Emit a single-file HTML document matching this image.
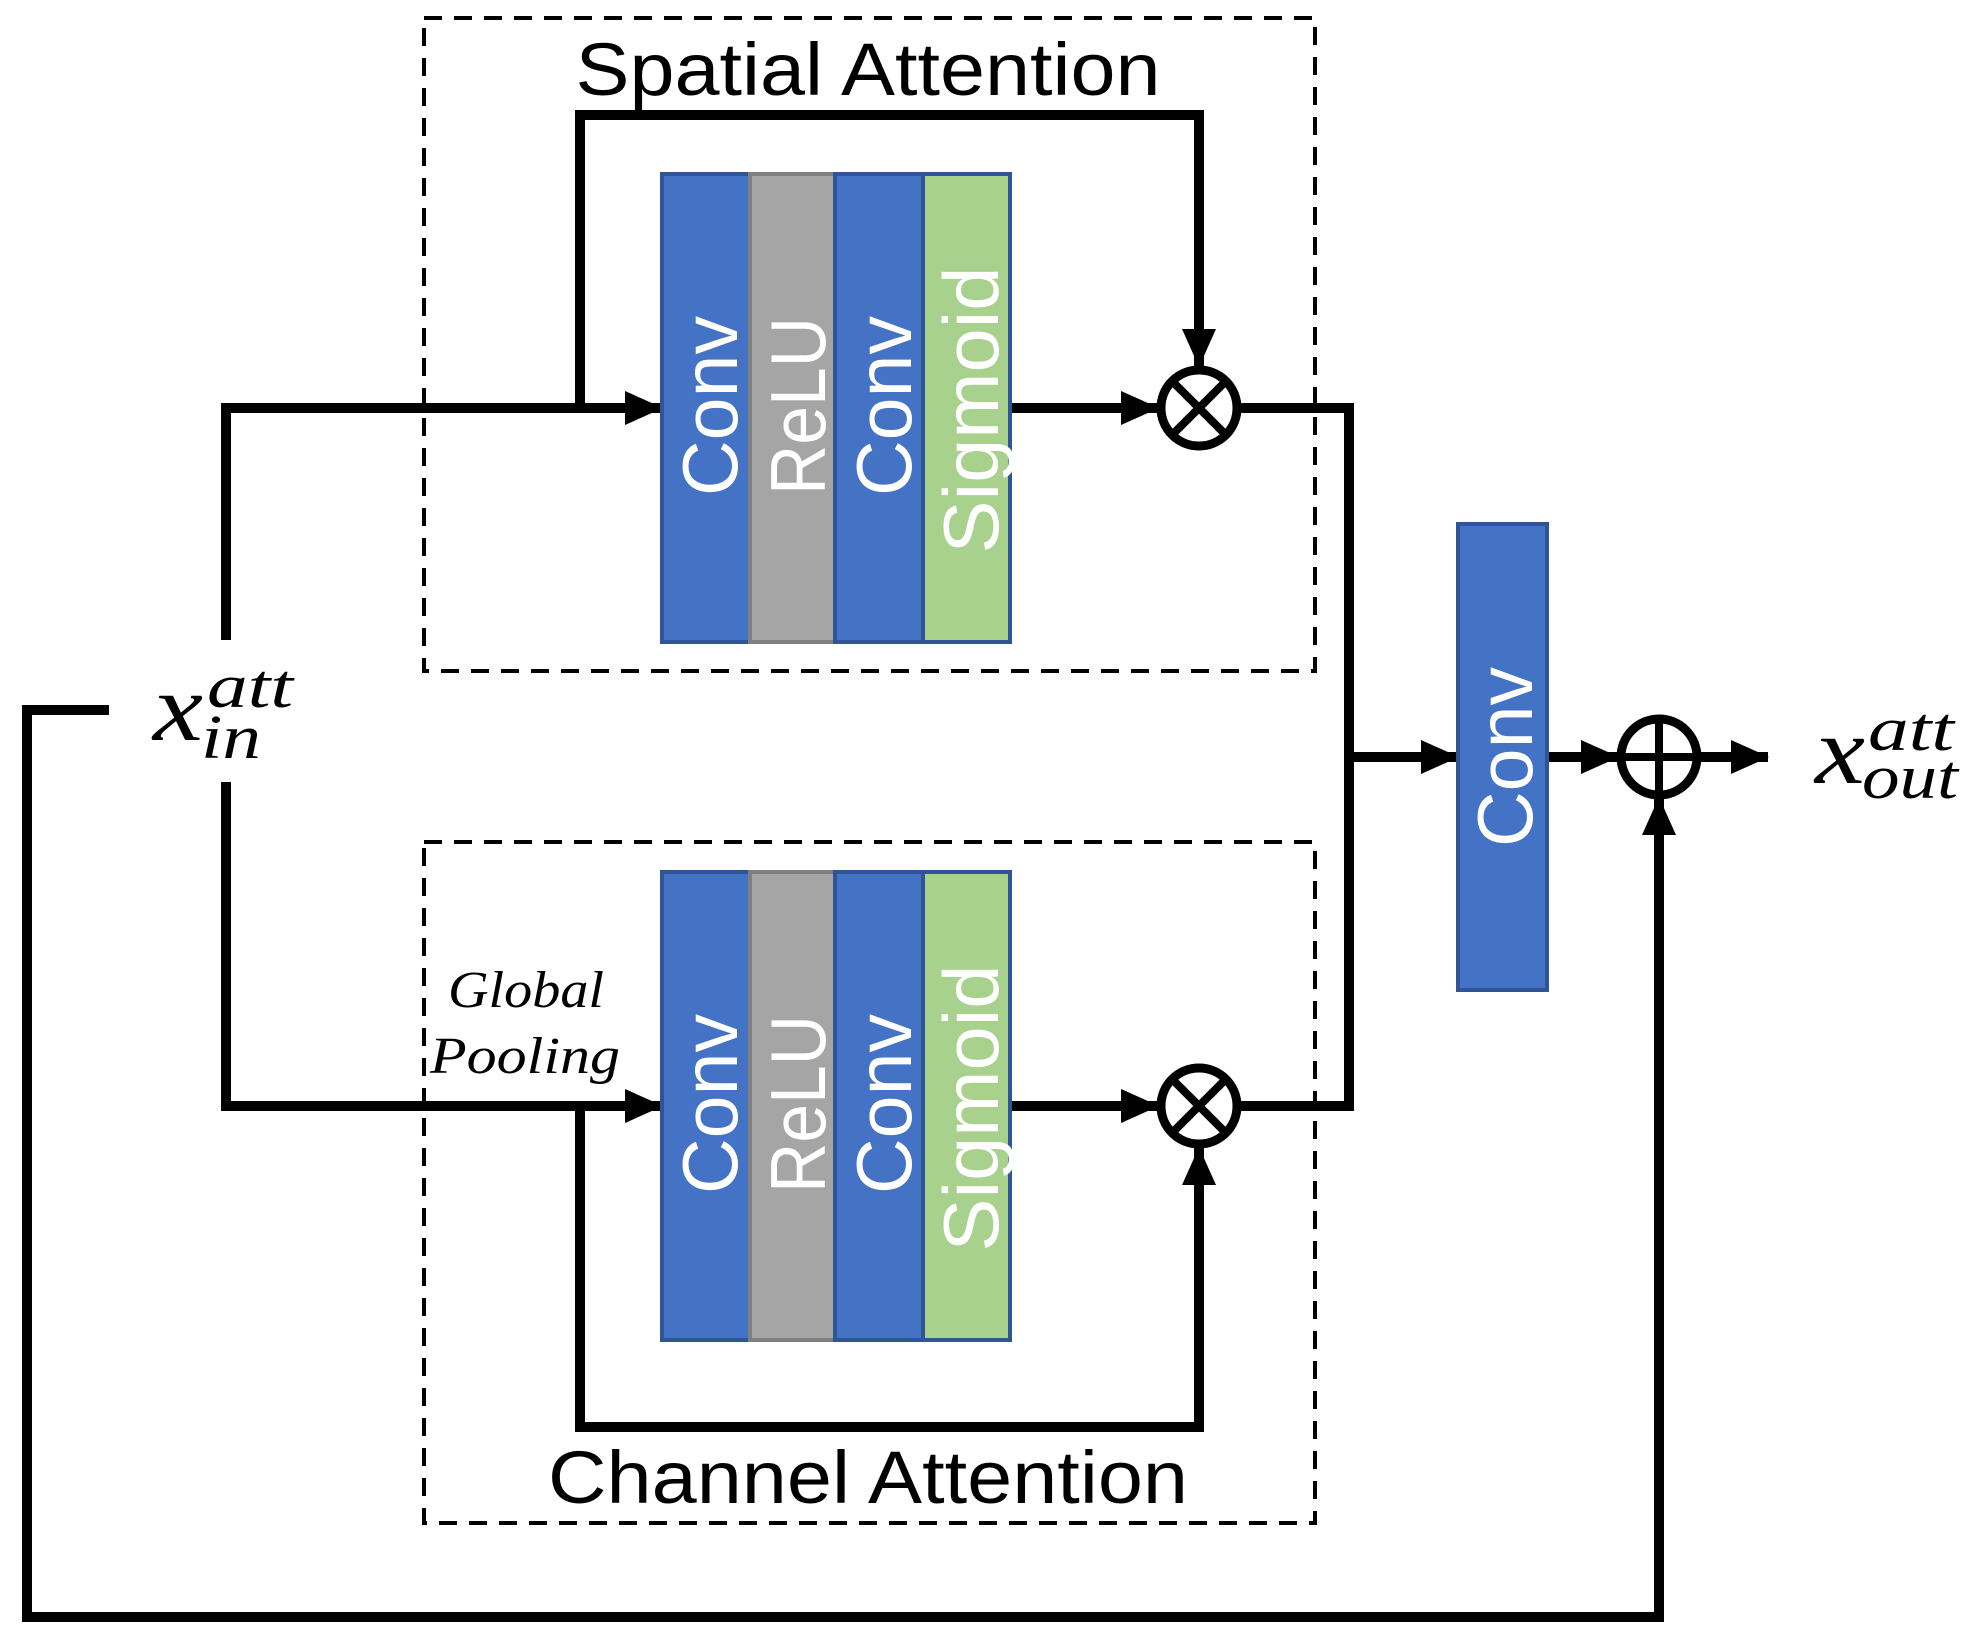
<!DOCTYPE html>
<html><head><meta charset="utf-8"><style>
html,body{margin:0;padding:0;background:#fff;}
svg{display:block;}
</style></head><body>
<svg width="1968" height="1637" viewBox="0 0 1968 1637" xmlns="http://www.w3.org/2000/svg">
<rect width="1968" height="1637" fill="#fff"/>
<defs>
<marker id="ah" markerWidth="38" markerHeight="34" refX="37" refY="17" orient="auto" markerUnits="userSpaceOnUse">
<path d="M0,0 L38,17 L0,34 z" fill="#000"/>
</marker>
</defs>
<rect x="424" y="18" width="891" height="653" fill="none" stroke="#000" stroke-width="4" stroke-dasharray="18,12"/>
<rect x="424" y="842" width="891" height="681" fill="none" stroke="#000" stroke-width="4" stroke-dasharray="18,12"/>
<text x="868" y="95" font-family="Liberation Sans, sans-serif" font-size="74" text-anchor="middle" textLength="585" lengthAdjust="spacingAndGlyphs">Spatial Attention</text>
<text x="868" y="1503" font-family="Liberation Sans, sans-serif" font-size="74" text-anchor="middle" textLength="640" lengthAdjust="spacingAndGlyphs">Channel Attention</text>

<g stroke="#000" stroke-width="10" fill="none" stroke-linejoin="miter">
<polyline points="226,640 226,408 662,408" marker-end="url(#ah)"/>
<polyline points="226,782 226,1106 662,1106" marker-end="url(#ah)"/>
<polyline points="580,408 580,115 1199,115 1199,366" marker-end="url(#ah)"/>
<polyline points="580,1106 580,1427 1199,1427 1199,1148" marker-end="url(#ah)"/>
<line x1="1010" y1="408" x2="1158" y2="408" marker-end="url(#ah)"/>
<line x1="1010" y1="1106" x2="1158" y2="1106" marker-end="url(#ah)"/>
<polyline points="1239,408 1349,408 1349,1106 1239,1106"/>
<line x1="1349" y1="757" x2="1458" y2="757" marker-end="url(#ah)"/>
<line x1="1548" y1="757" x2="1618" y2="757" marker-end="url(#ah)"/>
<line x1="1701" y1="757" x2="1768" y2="757" marker-end="url(#ah)"/>
<polyline points="109,710 27,710 27,1617 1659,1617 1659,798" marker-end="url(#ah)"/>
</g>

<g stroke="#2f5597" stroke-width="4">
<rect x="662" y="174" width="88" height="468" fill="#4472c4"/>
<rect x="750" y="174" width="85" height="468" fill="#a5a5a5" stroke="#7f7f7f"/>
<rect x="835" y="174" width="88" height="468" fill="#4472c4"/>
<rect x="923" y="174" width="87" height="468" fill="#a9d18e"/>
<rect x="662" y="872" width="88" height="468" fill="#4472c4"/>
<rect x="750" y="872" width="85" height="468" fill="#a5a5a5" stroke="#7f7f7f"/>
<rect x="835" y="872" width="88" height="468" fill="#4472c4"/>
<rect x="923" y="872" width="87" height="468" fill="#a9d18e"/>
<rect x="1458" y="524" width="89" height="466" fill="#4472c4"/>
</g>
<g font-family="Liberation Sans, sans-serif" font-size="78" fill="#fff" text-anchor="middle">
<text x="737" y="406" transform="rotate(-90 737 406)" textLength="180" lengthAdjust="spacingAndGlyphs">Conv</text>
<text x="825" y="406" transform="rotate(-90 825 406)" textLength="178" lengthAdjust="spacingAndGlyphs">ReLU</text>
<text x="911" y="406" transform="rotate(-90 911 406)" textLength="180" lengthAdjust="spacingAndGlyphs">Conv</text>
<text x="998" y="410" transform="rotate(-90 998 410)" textLength="287" lengthAdjust="spacingAndGlyphs">Sigmoid</text>
<text x="737" y="1104" transform="rotate(-90 737 1104)" textLength="180" lengthAdjust="spacingAndGlyphs">Conv</text>
<text x="825" y="1104" transform="rotate(-90 825 1104)" textLength="178" lengthAdjust="spacingAndGlyphs">ReLU</text>
<text x="911" y="1104" transform="rotate(-90 911 1104)" textLength="180" lengthAdjust="spacingAndGlyphs">Conv</text>
<text x="998" y="1108" transform="rotate(-90 998 1108)" textLength="287" lengthAdjust="spacingAndGlyphs">Sigmoid</text>
<text x="1532" y="757" transform="rotate(-90 1532 757)" textLength="180" lengthAdjust="spacingAndGlyphs">Conv</text>
</g>

<g stroke="#000" stroke-width="9" fill="#fff">
<circle cx="1199" cy="408" r="38"/>
<circle cx="1199" cy="1106" r="38"/>
<circle cx="1659" cy="757" r="38"/>
</g>
<g stroke="#000" stroke-width="8">
<line x1="1172" y1="381" x2="1226" y2="435"/><line x1="1226" y1="381" x2="1172" y2="435"/>
<line x1="1172" y1="1079" x2="1226" y2="1133"/><line x1="1226" y1="1079" x2="1172" y2="1133"/>
<line x1="1621" y1="757" x2="1697" y2="757"/><line x1="1659" y1="719" x2="1659" y2="795"/>
</g>

<g font-family="Liberation Serif, serif" font-style="italic" fill="#000">
<text x="153" y="740" font-size="96" textLength="50" lengthAdjust="spacingAndGlyphs">x</text>
<text x="207" y="707" font-size="62" textLength="86" lengthAdjust="spacingAndGlyphs">att</text>
<text x="201" y="758" font-size="62" textLength="60" lengthAdjust="spacingAndGlyphs">in</text>
<text x="1815" y="783" font-size="96" textLength="50" lengthAdjust="spacingAndGlyphs">x</text>
<text x="1868" y="750" font-size="62" textLength="86" lengthAdjust="spacingAndGlyphs">att</text>
<text x="1862" y="798" font-size="62" textLength="96" lengthAdjust="spacingAndGlyphs">out</text>
<text x="448" y="1007" font-size="52" textLength="156" lengthAdjust="spacingAndGlyphs">Global</text>
<text x="430" y="1073" font-size="52" textLength="190" lengthAdjust="spacingAndGlyphs">Pooling</text>
</g>
</svg>
</body></html>
